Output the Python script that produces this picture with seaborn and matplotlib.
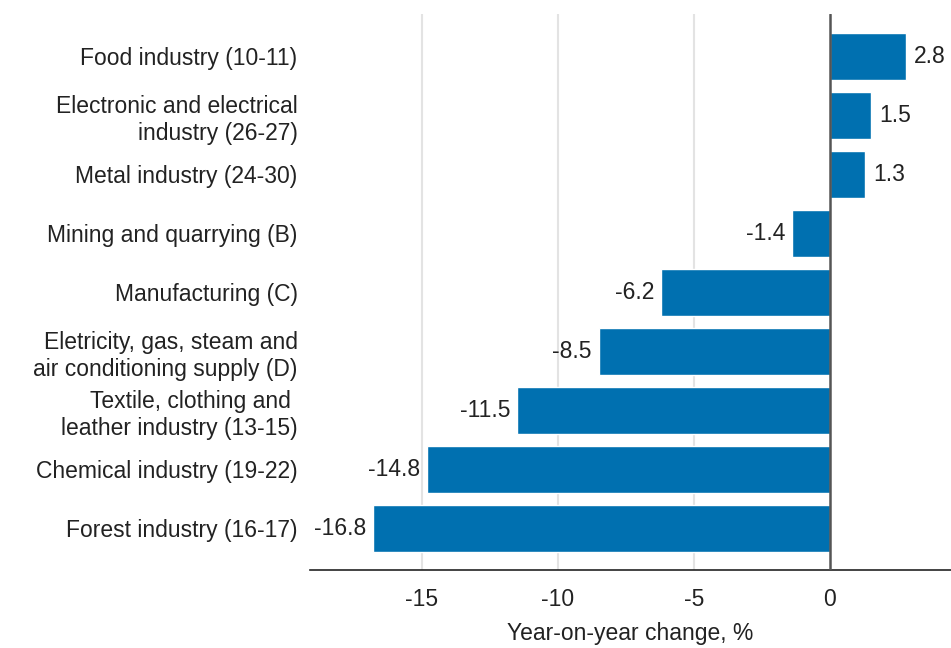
import matplotlib
matplotlib.use("Agg")
import matplotlib.pyplot as plt
import seaborn as sns
import pandas as pd

categories = [
    "Food industry (10-11)",
    "Electronic and electrical\nindustry (26-27)",
    "Metal industry (24-30)",
    "Mining and quarrying (B)",
    "Manufacturing (C)",
    "Eletricity, gas, steam and\nair conditioning supply (D)",
    "Textile, clothing and \nleather industry (13-15)",
    "Chemical industry (19-22)",
    "Forest industry (16-17)",
]
values = [2.8, 1.5, 1.3, -1.4, -6.2, -8.5, -11.5, -14.8, -16.8]
xticks = [-15, -10, -5, 0]
xlabel = "Year-on-year change, %"

df = pd.DataFrame({"category": categories, "value": values})

sns.set_style("white")
plt.rcParams["font.family"] = ["Liberation Sans", "DejaVu Sans"]

FS = 16.5
fig = plt.figure(figsize=(9.51, 6.48), dpi=100)
ax = fig.add_axes([0.326, 0.12, 0.674, 0.858])

sns.barplot(data=df, x="value", y="category", color="#0070B0", saturation=1,
            width=0.8, ax=ax, orient="h")

ax.set_xlim(-19.1, 4.45)
ax.set_ylim(8.71, -0.71)
ax.set_xticks(xticks)
ax.set_xticklabels([str(t) for t in xticks], fontsize=FS, color="#222222")
ax.tick_params(axis="x", length=0, pad=13)
ax.tick_params(axis="y", length=0, pad=9)
for lbl in ax.get_yticklabels():
    lbl.set_fontsize(FS)
    lbl.set_color("#222222")
    lbl.set_horizontalalignment("right")
    lbl.set_multialignment("right")
    lbl.set_linespacing(1.25)

for t in [-15, -10, -5]:
    ax.axvline(t, color="#e3e3e3", lw=1.5, zorder=0)
ax.axvline(0, color="#555555", lw=1.8, zorder=3)

ax.set_xlabel(xlabel, fontsize=FS, color="#222222", labelpad=8)
ax.set_ylabel("")

for s in ["top", "right", "left"]:
    ax.spines[s].set_visible(False)
ax.spines["bottom"].set_color("#222222")
ax.spines["bottom"].set_linewidth(1.2)

for i, v in enumerate(values):
    if v >= 0:
        ax.text(v + 0.3, i, f"{v:.1f}", va="center", ha="left", fontsize=FS, color="#222222")
    else:
        ax.text(v - 0.25, i, f"{v:.1f}", va="center", ha="right", fontsize=FS, color="#222222")

fig.savefig("out.png", dpi=100)
